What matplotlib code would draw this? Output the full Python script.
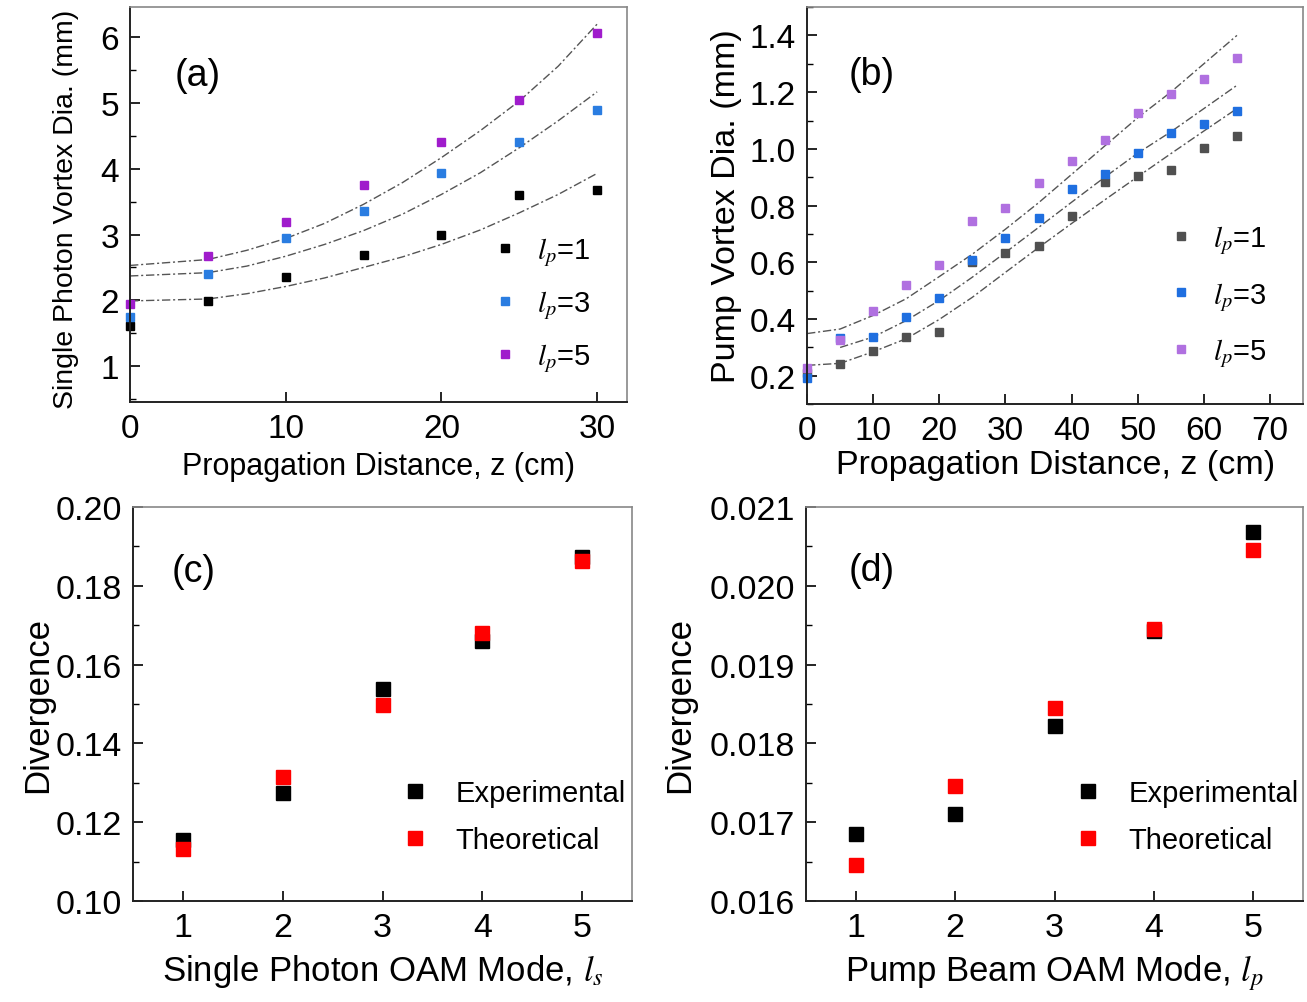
import matplotlib
matplotlib.use("Agg")
import matplotlib.pyplot as plt
from matplotlib.ticker import MultipleLocator

plt.rcParams['font.family'] = ['Liberation Sans', 'DejaVu Sans']
plt.rcParams['mathtext.fontset'] = 'stix'

# ---- panel (a): single photon vortex diameter vs z ----
z_a = [0, 5, 10, 15, 20, 25, 30]
a_l1 = [1.61, 1.99, 2.35, 2.69, 3.00, 3.60, 3.67]
a_l3 = [1.74, 2.40, 2.95, 3.36, 3.93, 4.40, 4.90]
a_l5 = [1.95, 2.67, 3.19, 3.76, 4.40, 5.05, 6.06]
# fitted curves
zfit_a = [0, 5, 7.5, 10, 12.5, 15, 17.5, 20, 22.5, 25, 27.5, 30]
a_fit1 = [1.99, 2.02, 2.10, 2.21, 2.34, 2.50, 2.66, 2.85, 3.07, 3.33, 3.61, 3.93]
a_fit3 = [2.37, 2.42, 2.52, 2.67, 2.85, 3.06, 3.31, 3.61, 3.94, 4.32, 4.73, 5.17]
a_fit5 = [2.53, 2.62, 2.76, 2.94, 3.17, 3.46, 3.79, 4.17, 4.58, 5.03, 5.56, 6.20]

# ---- panel (b): pump vortex diameter vs z ----
z_b = [0, 5, 10, 15, 20, 25, 30, 35, 40, 45, 50, 55, 60, 65]
b_l1 = [0.21, 0.242, 0.288, 0.338, 0.356, 0.603, 0.632, 0.657, 0.762, 0.883, 0.904, 0.924, 1.003, 1.044]
b_l3 = [0.192, 0.335, 0.338, 0.408, 0.476, 0.609, 0.685, 0.758, 0.857, 0.910, 0.986, 1.056, 1.088, 1.134]
b_l5 = [0.227, 0.326, 0.429, 0.519, 0.589, 0.747, 0.790, 0.881, 0.959, 1.030, 1.126, 1.192, 1.245, 1.322]
zfit_b = [0, 5, 10, 15, 20, 25, 30, 35, 40, 45, 50, 55, 60, 65]
b_fit1 = [0.237, 0.244, 0.285, 0.331, 0.399, 0.477, 0.565, 0.652, 0.737, 0.820, 0.902, 0.983, 1.063, 1.142]
b_fit3 = [0.288, 0.300, 0.337, 0.395, 0.466, 0.548, 0.635, 0.723, 0.812, 0.900, 0.985, 1.060, 1.142, 1.224]
b_fit5 = [0.349, 0.365, 0.413, 0.472, 0.550, 0.629, 0.717, 0.810, 0.910, 1.010, 1.110, 1.200, 1.300, 1.400]

# ---- panel (c) / (d): divergence vs OAM mode ----
modes = [1, 2, 3, 4, 5]
c_exp = [0.1154, 0.1273, 0.1539, 0.1659, 0.1872]
c_theo = [0.1132, 0.1314, 0.1497, 0.1680, 0.1864]
d_exp = [0.016849, 0.017108, 0.018220, 0.019421, 0.020682]
d_theo = [0.016458, 0.017456, 0.018453, 0.019451, 0.020457]

LS = 21      # legend
PS = 27      # panel letters
fit_style = dict(color='#555555', lw=1.0, ls=(0, (6, 2, 1.5, 2)))


def style_axes(ax, ts=24):
    ax.tick_params(direction='in', which='major', length=7, width=1.2, labelsize=ts, pad=8)
    ax.tick_params(direction='in', which='minor', length=4, width=1.0)
    for s in ['left', 'bottom']:
        ax.spines[s].set_linewidth(1.4)
        ax.spines[s].set_color('#222222')
    for s in ['top', 'right']:
        ax.spines[s].set_linewidth(1.2)
        ax.spines[s].set_color('#888888')


fig = plt.figure(figsize=(13.07, 10.03), dpi=100)

# (a)
ax = fig.add_axes([0.0995, 0.598, 0.380, 0.394])
ax.plot(zfit_a, a_fit1, **fit_style)
ax.plot(zfit_a, a_fit3, **fit_style)
ax.plot(zfit_a, a_fit5, **fit_style)
ax.plot(z_a, a_l1, 's', color='black', ms=5.5, label=r'$l_p$=1', clip_on=False)
ax.plot(z_a, a_l3, 's', color='#2a7de1', ms=5.5, label=r'$l_p$=3', clip_on=False)
ax.plot(z_a, a_l5, 's', color='#a01ccc', ms=5.5, label=r'$l_p$=5', clip_on=False)
ax.set_xlim(0, 31.9)
ax.set_ylim(0.45, 6.46)
ax.xaxis.set_major_locator(MultipleLocator(10))
ax.yaxis.set_major_locator(MultipleLocator(1))
ax.yaxis.set_minor_locator(MultipleLocator(0.5))
style_axes(ax)
ax.set_xlabel('Propagation Distance, z (cm)', fontsize=22)
ax.set_ylabel('Single Photon Vortex Dia. (mm)', fontsize=20.5)
ax.xaxis.set_label_coords(0.5, -0.124)
ax.yaxis.set_label_coords(-0.103, 0.49)
ax.text(0.09, 0.828, '(a)', transform=ax.transAxes, fontsize=PS, va='center')
ax.legend(loc='lower right', bbox_to_anchor=(0.98, 0.005), frameon=False, fontsize=LS,
          handletextpad=0.6, labelspacing=0.7, handlelength=1.0)

# (b)
ax = fig.add_axes([0.6175, 0.596, 0.3795, 0.396])
ax.plot(zfit_b, b_fit1, **fit_style)
ax.plot(zfit_b[1:], b_fit3[1:], **fit_style)
ax.plot(zfit_b, b_fit5, **fit_style)
ax.plot(z_b, b_l1, 's', color='#505050', ms=6, label=r'$l_p$=1', clip_on=False)
ax.plot(z_b, b_l3, 's', color='#1f6fe0', ms=6, label=r'$l_p$=3', clip_on=False)
ax.plot(z_b, b_l5, 's', color='#b070e0', ms=6, label=r'$l_p$=5', clip_on=False)
ax.set_xlim(0, 75)
ax.set_ylim(0.1, 1.5)
ax.xaxis.set_major_locator(MultipleLocator(10))
ax.yaxis.set_major_locator(MultipleLocator(0.2))
ax.yaxis.set_minor_locator(MultipleLocator(0.1))
ax.yaxis.set_major_formatter(plt.FormatStrFormatter('%.1f'))
style_axes(ax)
ax.set_xlabel('Propagation Distance, z (cm)', fontsize=24.5)
ax.set_ylabel('Pump Vortex Dia. (mm)', fontsize=24.5)
ax.xaxis.set_label_coords(0.5, -0.112)
ax.yaxis.set_label_coords(-0.131, 0.5)
ax.text(0.083, 0.831, '(b)', transform=ax.transAxes, fontsize=PS, va='center')
ax.legend(loc='lower right', bbox_to_anchor=(0.98, 0.022), frameon=False, fontsize=LS,
          handletextpad=0.6, labelspacing=0.82, handlelength=1.0)

# (c)
ax = fig.add_axes([0.1018, 0.1007, 0.3818, 0.3928])
ax.plot(modes, c_exp, 's', color='black', ms=10, label='Experimental')
ax.plot(modes, c_theo, 's', color='#ff0000', ms=10, label='Theoretical')
ax.set_xlim(0.5, 5.5)
ax.set_ylim(0.10, 0.20)
ax.xaxis.set_major_locator(MultipleLocator(1))
ax.yaxis.set_major_locator(MultipleLocator(0.02))
ax.yaxis.set_minor_locator(MultipleLocator(0.01))
ax.yaxis.set_major_formatter(plt.FormatStrFormatter('%.2f'))
style_axes(ax, 24.5)
ax.set_xlabel(r'Single Photon OAM Mode, $l_s$', fontsize=25)
ax.set_ylabel('Divergence', fontsize=25)
ax.xaxis.set_label_coords(0.5, -0.13)
ax.yaxis.set_label_coords(-0.158, 0.5)
ax.text(0.078, 0.838, '(c)', transform=ax.transAxes, fontsize=PS, va='center')
ax.legend(loc='lower right', bbox_to_anchor=(1.04, 0.052), frameon=False, fontsize=LS,
          handletextpad=0.8, labelspacing=0.67, handlelength=1.2)

# (d)
ax = fig.add_axes([0.6167, 0.1007, 0.3803, 0.3928])
ax.plot(modes, d_exp, 's', color='black', ms=10, label='Experimental')
ax.plot(modes, d_theo, 's', color='#ff0000', ms=10, label='Theoretical')
ax.set_xlim(0.5, 5.5)
ax.set_ylim(0.016, 0.021)
ax.xaxis.set_major_locator(MultipleLocator(1))
ax.yaxis.set_major_locator(MultipleLocator(0.001))
ax.yaxis.set_minor_locator(MultipleLocator(0.0005))
ax.yaxis.set_major_formatter(plt.FormatStrFormatter('%.3f'))
style_axes(ax, 24.5)
ax.set_xlabel(r'Pump Beam OAM Mode, $l_p$', fontsize=25)
ax.set_ylabel('Divergence', fontsize=25)
ax.xaxis.set_label_coords(0.5, -0.13)
ax.yaxis.set_label_coords(-0.221, 0.5)
ax.text(0.085, 0.84, '(d)', transform=ax.transAxes, fontsize=PS, va='center')
ax.legend(loc='lower right', bbox_to_anchor=(1.044, 0.052), frameon=False, fontsize=LS,
          handletextpad=0.8, labelspacing=0.67, handlelength=1.2)

fig.savefig('out.png', dpi=100)
